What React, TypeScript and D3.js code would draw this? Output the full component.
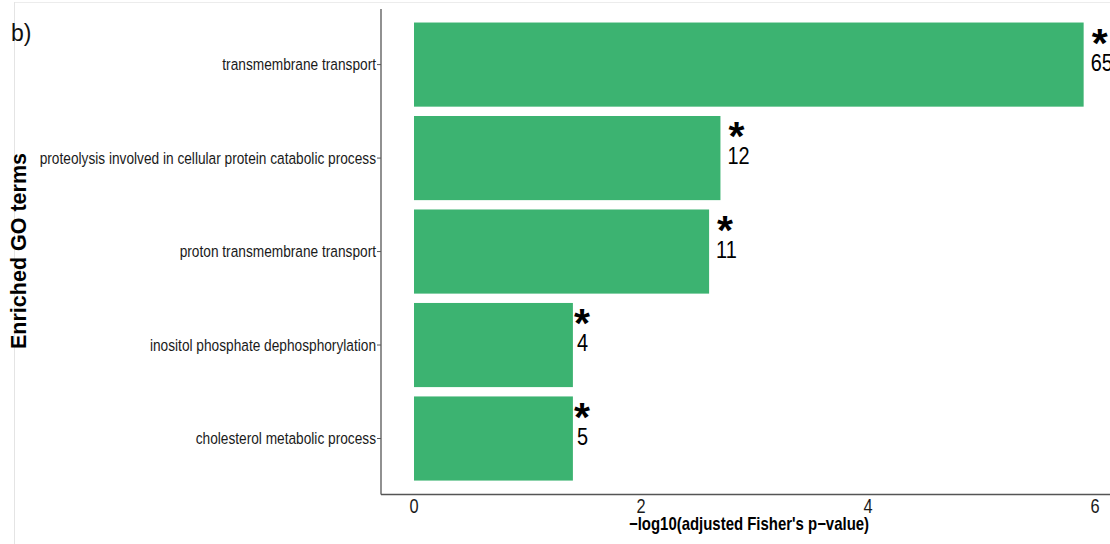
import React from "react";
import * as d3 from "d3";

// GO terms, top to bottom
const terms = [
  "transmembrane transport",
  "proteolysis involved in cellular protein catabolic process",
  "proton transmembrane transport",
  "inositol phosphate dephosphorylation",
  "cholesterol metabolic process",
];
// -log10(adjusted Fisher's p-value)
const scores = [5.9, 2.7, 2.6, 1.4, 1.4];
// number of significant genes per term
const geneCounts = [65, 12, 11, 4, 5];
const xTicks = [0, 2, 4, 6];

const W = 1110;
const H = 544;
const SANS = "'Liberation Sans', Arial, sans-serif";
const BAR = "#3cb371";
const AXIS = "#555";

// horizontally condensed text (narrow sans look)
function Narrow({
  x,
  y,
  sx = 0.83,
  anchor = "start",
  size,
  weight = "normal",
  fill = "#1a1a1a",
  children,
}: {
  x: number;
  y: number;
  sx?: number;
  anchor?: "start" | "middle" | "end";
  size: number;
  weight?: string;
  fill?: string;
  children: React.ReactNode;
}) {
  return (
    <text
      transform={`translate(${x},${y}) scale(${sx},1)`}
      textAnchor={anchor}
      fontFamily={SANS}
      fontSize={size}
      fontWeight={weight}
      fill={fill}
    >
      {children}
    </text>
  );
}

export default function App() {
  const panelLeft = 381;
  const panelBottom = 494.5;
  const x = d3.scaleLinear().domain([0, 6]).range([414, 1095]);
  const y = d3
    .scaleBand<string>()
    .domain(terms)
    .range([8.5, 494.6])
    .paddingInner(0.1)
    .paddingOuter(0.15);

  return (
    <svg
      width={W}
      height={H}
      style={{ position: "absolute", left: 0, top: 0, background: "#fff" }}
    >
      {/* outer frame */}
      <line x1={14} y1={2.5} x2={W} y2={2.5} stroke="#ececec" strokeWidth={1} />
      <line x1={14.5} y1={2} x2={14.5} y2={H} stroke="#e4e4e4" strokeWidth={1} />

      <text x={11} y={41} fontFamily={SANS} fontSize={23} fill="#111">
        b)
      </text>

      {/* bars */}
      {terms.map((t, i) => (
        <rect
          key={t}
          x={x(0)}
          y={y(t)!}
          width={x(scores[i]) - x(0)}
          height={y.bandwidth()}
          fill={BAR}
        />
      ))}

      {/* significance star and gene count */}
      {terms.map((t, i) => {
        const label = String(geneCounts[i]);
        const cy = y(t)! + y.bandwidth() / 2;
        const twoDigit = label.length > 1;
        const lx = x(scores[i]) + (twoDigit ? 8 : 1);
        return (
          <g key={"lab" + t}>
            <text
              x={lx}
              y={cy - 8}
              fontFamily={SANS}
              fontWeight="bold"
              fontSize={41}
              fill="#000"
            >
              *
            </text>
            <Narrow x={twoDigit ? lx - 1 : lx + 3} y={cy + 6} size={24} fill="#000">
              {label}
            </Narrow>
          </g>
        );
      })}

      {/* axes */}
      <line x1={panelLeft} y1={9} x2={panelLeft} y2={panelBottom} stroke={AXIS} strokeWidth={1.3} />
      <line x1={panelLeft} y1={panelBottom} x2={W} y2={panelBottom} stroke={AXIS} strokeWidth={1.3} />

      {terms.map((t) => {
        const cy = y(t)! + y.bandwidth() / 2;
        return (
          <g key={"yt" + t}>
            <line x1={panelLeft - 4} x2={panelLeft} y1={cy} y2={cy} stroke={AXIS} strokeWidth={1} />
            <Narrow x={panelLeft - 5} y={cy + 5.5} anchor="end" size={16.5}>
              {t}
            </Narrow>
          </g>
        );
      })}

      {xTicks.map((v) => (
        <Narrow key={"xt" + v} x={x(v)} y={513} anchor="middle" size={20} sx={0.82}>
          {v}
        </Narrow>
      ))}

      <Narrow x={749} y={530} anchor="middle" size={18} sx={0.83} weight="bold" fill="#000">
        −log10(adjusted Fisher's p−value)
      </Narrow>

      <text
        transform={`translate(26,251) rotate(-90)`}
        textAnchor="middle"
        fontFamily={SANS}
        fontWeight="bold"
        fontSize={21.5}
        fill="#000"
      >
        Enriched GO terms
      </text>
    </svg>
  );
}
